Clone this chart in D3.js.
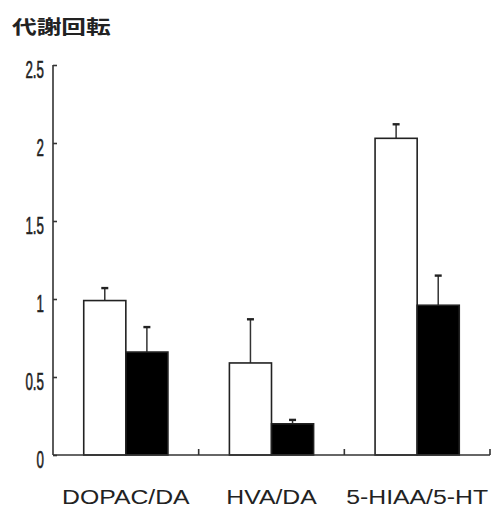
<!DOCTYPE html>
<meta charset="utf-8">
<style>
    body { margin: 0; background: #fff; }
    svg { display: block; }
    .axis path, .axis line { stroke: #333; stroke-width: 1.6; }
    .bar { stroke: #222; stroke-width: 1.6; }
    .err line { stroke: #333; stroke-width: 1.5; }
    .err .cap { stroke: #222; stroke-width: 2.4; }
</style>
<svg width="497" height="509"></svg>
<script src="https://d3js.org/d3.v7.min.js"></script>
<script>

    var categories = ["DOPAC/DA", "HVA/DA", "5-HIAA/5-HT"];
    var groups = ["open", "filled"];
    var openMean = [0.99, 0.59, 2.03];
    var openErr = [0.08, 0.28, 0.09];
    var filledMean = [0.66, 0.20, 0.96];
    var filledErr = [0.16, 0.025, 0.19];
    var yTicks = [0, 0.5, 1, 1.5, 2, 2.5];
    var title = "代謝回転";

    var svg = d3.select("svg");

    var x = d3.scaleBand()
        .domain(categories)
        .range([53, 490]);

    var xs = d3.scaleBand()
        .domain(groups)
        .range([0, x.bandwidth()])
        .paddingOuter(0.73);

    var y = d3.scaleLinear()
        .domain([0, 2.5])
        .range([455, 65]);

    var rows = [];
    categories.forEach(function(c, i) {
        rows.push({cat: c, grp: "open", v: openMean[i], e: openErr[i]});
        rows.push({cat: c, grp: "filled", v: filledMean[i], e: filledErr[i]});
    });

    // error bars (behind bars)
    var err = svg.append("g").attr("class", "err")
        .selectAll("g")
        .data(rows)
        .enter().append("g")
        .attr("transform", function(d) {
            return "translate(" + (x(d.cat) + xs(d.grp) + xs.bandwidth() / 2) + ",0)";
        });
    err.append("line")
        .attr("y1", function(d) { return y(d.v); })
        .attr("y2", function(d) { return y(d.v + d.e); });
    err.append("line")
        .attr("class", "cap")
        .attr("x1", -3.5).attr("x2", 3.5)
        .attr("y1", function(d) { return y(d.v + d.e); })
        .attr("y2", function(d) { return y(d.v + d.e); });

    svg.append("g")
        .selectAll("rect")
        .data(rows)
        .enter().append("rect")
        .attr("class", "bar")
        .attr("x", function(d) { return x(d.cat) + xs(d.grp); })
        .attr("width", xs.bandwidth())
        .attr("y", function(d) { return y(d.v); })
        .attr("height", function(d) { return y(0) - y(d.v); })
        .attr("fill", function(d) { return d.grp == "open" ? "#fff" : "#000"; });

    // y axis, ticks pointing inward
    var ya = svg.append("g")
        .attr("class", "axis")
        .attr("transform", "translate(53,0)")
        .call(d3.axisLeft(y)
            .tickValues(yTicks)
            .tickSizeInner(-4)
            .tickSizeOuter(0)
            .tickFormat(function(d) { return String(d); }));
    ya.attr("font-size", 23)
        .attr("font-family", "'Liberation Sans', Arial, sans-serif");
    ya.select(".domain").attr("d", "M0," + y(0) + "V" + y(2.5));
    ya.selectAll("text")
        .attr("x", null)
        .attr("dy", null)
        .attr("transform", "translate(-9,12) scale(0.58,1)")
        .attr("fill", "#222")
        .attr("stroke", "#222")
        .attr("stroke-width", 0.6);

    // x axis with ticks at category boundaries
    var xa = svg.append("g").attr("class", "axis");
    xa.append("line")
        .attr("x1", x.range()[0]).attr("x2", x.range()[1])
        .attr("y1", y(0)).attr("y2", y(0));
    xa.selectAll(".bt")
        .data(categories)
        .enter().append("line")
        .attr("class", "bt")
        .attr("x1", function(d) { return x(d) + x.bandwidth(); })
        .attr("x2", function(d) { return x(d) + x.bandwidth(); })
        .attr("y1", y(0)).attr("y2", y(0) - 6);

    svg.append("g")
        .selectAll("text")
        .data(categories)
        .enter().append("text")
        .attr("transform", function(d) {
            return "translate(" + (x(d) + x.bandwidth() / 2) + ",504) scale(1.18,1)";
        })
        .attr("text-anchor", "middle")
        .attr("fill", "#222")
        .style("font-family", "'Liberation Sans', Arial, sans-serif")
        .style("font-size", "21px")
        .text(function(d) { return d; });

    svg.append("text")
        .attr("transform", "translate(12,34) scale(1.3,1)")
        .attr("fill", "#222")
        .style("font-family", "'Noto Sans CJK JP', sans-serif")
        .style("font-weight", "bold")
        .style("font-size", "19px")
        .text(title);

</script>
